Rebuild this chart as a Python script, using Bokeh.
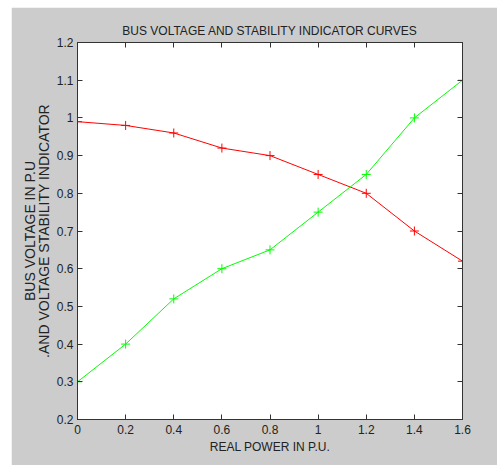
from bokeh.plotting import figure
from bokeh.models import FixedTicker, Spacer, LinearAxis
from bokeh.layouts import column, row
from bokeh.embed import file_html
from bokeh.resources import INLINE

# Data
real_power = [0.0, 0.2, 0.4, 0.6, 0.8, 1.0, 1.2, 1.4, 1.6]
bus_voltage = [0.99, 0.98, 0.96, 0.92, 0.90, 0.85, 0.80, 0.70, 0.62]
stability_indicator = [0.30, 0.40, 0.52, 0.60, 0.65, 0.75, 0.85, 1.00, 1.10]
x_ticks = [0, 0.2, 0.4, 0.6, 0.8, 1, 1.2, 1.4, 1.6]
y_ticks = [0.2, 0.3, 0.4, 0.5, 0.6, 0.7, 0.8, 0.9, 1.0, 1.1, 1.2]
x_lim = (0, 1.6)
y_lim = (0.2, 1.2)

FONT = "Liberation Sans"
TXT = "#222222"
AX = "#333333"

p = figure(width=486, height=458, output_backend="svg", toolbar_location=None,
           x_range=x_lim, y_range=y_lim,
           title="BUS VOLTAGE AND STABILITY INDICATOR CURVES",
           min_border_left=66, min_border_right=35, min_border_top=35, min_border_bottom=46)
p.border_fill_color = "#cccccc"
p.background_fill_color = "white"
p.outline_line_color = AX
p.xgrid.visible = False
p.ygrid.visible = False

p.title.align = "center"
p.title.text_font = FONT
p.title.text_font_size = "12px"
p.title.text_font_style = "normal"
p.title.text_color = TXT
p.title.standoff = 9


def style_axis(ax, ticks):
    ax.ticker = FixedTicker(ticks=ticks)
    ax.major_tick_in = 5
    ax.major_tick_out = 0
    ax.minor_tick_line_color = None
    ax.axis_line_color = AX
    ax.major_tick_line_color = AX
    ax.major_label_text_font = FONT
    ax.major_label_text_color = TXT
    ax.major_label_text_font_size = "12px"
    ax.axis_label_text_font = FONT
    ax.axis_label_text_color = TXT
    ax.axis_label_text_font_style = "normal"


style_axis(p.xaxis[0], x_ticks)
style_axis(p.yaxis[0], y_ticks)

p.xaxis[0].axis_label = "REAL POWER IN P.U."
p.xaxis[0].axis_label_text_font_size = "12px"
p.xaxis[0].major_label_standoff = 5
p.xaxis[0].axis_label_standoff = 3

p.yaxis[0].axis_label = "BUS VOLTAGE IN P.U\n.AND VOLTAGE STABILITY INDICATOR"
p.yaxis[0].axis_label_text_font_size = "14px"
p.yaxis[0].axis_label_text_line_height = 0.85
p.yaxis[0].major_label_standoff = 4
p.yaxis[0].axis_label_standoff = 2

# box axes on top and right with inward ticks, no labels
top_ax = LinearAxis()
style_axis(top_ax, x_ticks)
top_ax.major_label_overrides = {t: "" for t in x_ticks}
top_ax.major_label_standoff = 0
p.add_layout(top_ax, "above")
right_ax = LinearAxis()
style_axis(right_ax, y_ticks)
right_ax.major_label_overrides = {t: "" for t in y_ticks}
right_ax.major_label_standoff = 0
p.add_layout(right_ax, "right")

p.line(real_power, bus_voltage, line_color="#ff0000", line_width=1)
p.scatter(real_power, bus_voltage, marker="cross", size=9, line_color="#ff0000", line_width=1)
p.line(real_power, stability_indicator, line_color="#00ff00", line_width=1)
p.scatter(real_power, stability_indicator, marker="cross", size=9, line_color="#00ff00", line_width=1)

layout = column(Spacer(height=7), row(Spacer(width=11), p))
open("out.html", "w").write(file_html(layout, INLINE))
